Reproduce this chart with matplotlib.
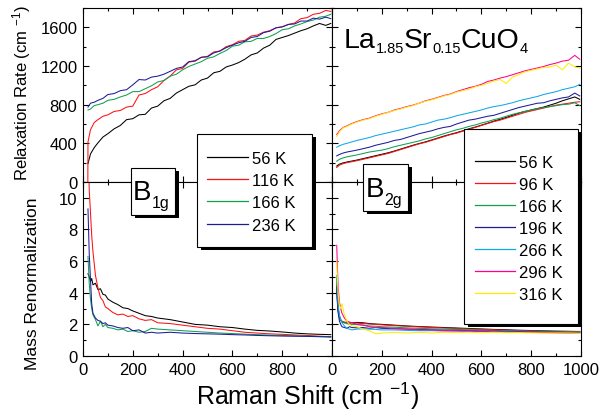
import matplotlib
matplotlib.use('Agg')
import matplotlib.pyplot as plt
from matplotlib.patches import Rectangle
from matplotlib.lines import Line2D
from matplotlib.ticker import MultipleLocator

plt.rcParams['font.family'] = ['Liberation Sans', 'DejaVu Sans']
plt.rcParams['mathtext.fontset'] = 'custom'
plt.rcParams['mathtext.rm'] = 'Liberation Sans'
plt.rcParams['mathtext.default'] = 'regular'

# ---- B1g relaxation rate (cm^-1) ----
b1g_shift = [20, 30, 45, 60, 80, 100, 125, 150, 175, 200, 225, 250, 275, 300, 325, 350,
             375, 400, 425, 450, 475, 500, 525, 550, 575, 600, 625, 650, 675, 700, 725,
             750, 775, 800, 825, 850, 875, 900, 925, 950, 975, 995]
b1g_rate_56 = [190, 290, 355, 405, 465, 500, 550, 585, 645, 655, 695, 700, 765, 785, 840, 865,
               920, 955, 990, 1005, 1055, 1075, 1130, 1145, 1190, 1210, 1235, 1270, 1315, 1335,
               1385, 1415, 1475, 1495, 1515, 1540, 1565, 1585, 1615, 1640, 1620, 1640]
b1g_shift_116 = [19] + b1g_shift
b1g_rate_116 = [-300, 413, 540, 615, 645, 680, 695, 730, 740, 775, 785, 900, 915, 955, 985, 1050,
                1095, 1160, 1175, 1240, 1250, 1290, 1300, 1345, 1355, 1400, 1420, 1455, 1465,
                1510, 1520, 1550, 1565, 1595, 1605, 1630, 1645, 1690, 1700, 1735, 1745, 1775, 1765]
b1g_rate_166 = [745, 755, 790, 800, 815, 845, 855, 880, 900, 935, 935, 965, 995, 1035, 1050, 1095,
                1115, 1160, 1195, 1220, 1245, 1280, 1295, 1330, 1360, 1405, 1415, 1450, 1455,
                1485, 1485, 1505, 1535, 1575, 1585, 1615, 1635, 1660, 1675, 1705, 1715, 1735]
b1g_rate_236 = [775, 815, 825, 845, 865, 905, 915, 945, 955, 1005, 1060, 1055, 1085, 1095, 1115,
                1145, 1175, 1190, 1245, 1255, 1290, 1295, 1335, 1355, 1390, 1415, 1440, 1455,
                1495, 1505, 1545, 1560, 1595, 1605, 1630, 1635, 1665, 1665, 1695, 1685, 1705, 1690]

# ---- B1g mass renormalization ----
b1g_mshift = [20, 25, 30, 35, 40, 50, 60, 70, 80, 90, 100, 120, 140, 160, 180, 200, 225, 250,
              275, 300, 350, 400, 450, 500, 550, 600, 650, 700, 750, 800, 850, 900, 950, 995]
b1g_mass_56 = [5.2, 5.0, 4.7, 4.9, 4.5, 4.6, 4.2, 4.25, 3.9, 3.85, 3.6, 3.4, 3.25, 3.05, 3.0, 2.85,
               2.7, 2.55, 2.5, 2.4, 2.3, 2.15, 2.0, 1.95, 1.85, 1.8, 1.7, 1.62, 1.58, 1.52, 1.45,
               1.4, 1.37, 1.35]
b1g_mass_116 = [14.0, 10.5, 9.1, 7.6, 6.6, 5.1, 4.3, 3.7, 3.5, 3.1, 3.0, 2.75, 2.6, 2.65, 2.5, 2.55,
                2.35, 2.25, 2.3, 2.1, 2.05, 1.95, 1.85, 1.75, 1.7, 1.6, 1.5, 1.45, 1.4, 1.37, 1.33,
                1.3, 1.25, 1.22]
b1g_mass_166 = [6.3, 4.6, 3.6, 3.0, 2.6, 2.3, 1.9, 2.2, 1.85, 2.0, 1.8, 1.75, 1.65, 1.7, 1.55, 1.6,
                1.5, 1.55, 1.75, 1.7, 1.65, 1.6, 1.55, 1.5, 1.45, 1.42, 1.38, 1.35, 1.32, 1.3, 1.28,
                1.25, 1.23, 1.22]
b1g_mass_236 = [9.3, 6.5, 4.85, 3.3, 2.7, 2.4, 2.25, 2.2, 2.05, 2.1, 1.95, 1.9, 1.8, 1.75, 1.8, 1.6,
                1.65, 1.45, 1.5, 1.45, 1.5, 1.45, 1.42, 1.4, 1.38, 1.35, 1.33, 1.3, 1.28, 1.26, 1.25,
                1.24, 1.22, 1.2]

# ---- B2g relaxation rate ----
b2g_shift = [19, 30, 45, 60, 80, 100, 125, 150, 175, 200, 225, 250, 275, 300, 325, 350,
             375, 400, 425, 450, 475, 500, 525, 550, 575, 600, 625, 650, 675, 700, 725,
             750, 775, 800, 825, 850, 875, 900, 925, 950, 975, 995]
b2g_rate_56 = [165, 185, 198, 207, 217, 227, 242, 257, 272, 287, 302, 320, 340, 360, 380, 398,
               415, 435, 455, 475, 493, 510, 530, 550, 568, 588, 608, 630, 648, 668, 690, 712,
               730, 745, 760, 775, 795, 815, 840, 860, 880, 855]
b2g_rate_96 = [150, 175, 190, 200, 210, 220, 235, 250, 265, 280, 295, 315, 335, 355, 375, 395,
               410, 430, 450, 470, 490, 505, 525, 545, 565, 585, 605, 625, 640, 660, 680, 700,
               720, 735, 750, 765, 780, 795, 805, 815, 825, 830]
b2g_rate_166 = [215, 235, 250, 260, 270, 280, 295, 310, 320, 330, 345, 365, 380, 395, 410, 425,
                445, 460, 480, 500, 520, 540, 555, 575, 590, 610, 625, 645, 660, 680, 700, 715,
                730, 745, 760, 770, 780, 790, 800, 805, 820, 790]
b2g_rate_196 = [270, 285, 300, 310, 320, 330, 345, 360, 380, 395, 410, 430, 440, 460, 480, 500,
                515, 530, 550, 565, 575, 600, 620, 640, 650, 665, 680, 690, 710, 730, 750, 770,
                785, 800, 815, 820, 840, 855, 870, 880, 920, 890]
b2g_rate_266 = [360, 375, 390, 400, 415, 430, 445, 460, 480, 495, 510, 525, 540, 555, 570, 590,
                600, 620, 640, 650, 665, 685, 700, 715, 730, 745, 765, 780, 790, 805, 820, 840,
                855, 870, 885, 905, 920, 935, 955, 970, 985, 1010]
b2g_rate_296 = [490, 530, 565, 580, 605, 625, 645, 660, 685, 705, 720, 745, 760, 780, 795, 815,
                840, 855, 875, 895, 910, 935, 955, 975, 990, 1010, 1040, 1055, 1075, 1090, 1110,
                1130, 1150, 1165, 1180, 1195, 1215, 1230, 1250, 1260, 1310, 1270]
b2g_rate_316 = [470, 520, 560, 575, 600, 620, 640, 655, 680, 700, 720, 740, 755, 775, 790, 815,
                835, 850, 870, 890, 905, 930, 945, 960, 985, 1000, 1020, 1045, 1060, 1020, 1085,
                1110, 1140, 1155, 1170, 1185, 1190, 1210, 1160, 1230, 1190, 1180]

# ---- B2g mass renormalization ----
b2g_mshift = [19, 22, 25, 30, 35, 40, 50, 60, 70, 80, 100, 125, 150, 175, 200, 250, 300, 350,
              400, 450, 500, 550, 600, 650, 700, 750, 800, 850, 900, 950, 995]
b2g_mass_56 = [4.3, 3.3, 2.8, 2.4, 2.25, 2.15, 2.1, 2.1, 2.08, 2.1, 2.12, 2.1, 2.05, 2.02, 2.0,
               1.95, 1.9, 1.86, 1.83, 1.8, 1.77, 1.74, 1.71, 1.68, 1.66, 1.63, 1.61, 1.59, 1.57,
               1.56, 1.55]
b2g_mass_96 = [4.6, 3.5, 2.9, 2.5, 2.3, 2.2, 2.15, 2.12, 2.1, 2.1, 2.08, 2.05, 2.02, 2.0, 1.97,
               1.92, 1.88, 1.84, 1.8, 1.77, 1.74, 1.71, 1.68, 1.66, 1.63, 1.61, 1.59, 1.57, 1.56,
               1.55, 1.54]
b2g_mass_166 = [4.9, 3.6, 3.0, 2.5, 2.3, 2.2, 2.1, 2.05, 2.0, 2.0, 1.98, 1.95, 1.9, 1.88, 1.85,
                1.82, 1.78, 1.75, 1.72, 1.7, 1.68, 1.66, 1.64, 1.62, 1.6, 1.58, 1.56, 1.55, 1.53,
                1.52, 1.52]
b2g_mass_196 = [4.4, 3.4, 2.7, 2.2, 2.0, 1.85, 1.8, 1.75, 1.85, 1.8, 1.78, 1.8, 1.75, 1.8, 1.75,
                1.72, 1.7, 1.68, 1.65, 1.63, 1.62, 1.6, 1.58, 1.57, 1.55, 1.55, 1.52, 1.5, 1.5,
                1.48, 1.48]
b2g_mass_266 = [5.1, 4.0, 3.2, 2.6, 2.3, 2.1, 1.9, 1.75, 1.7, 1.65, 1.7, 1.72, 1.7, 1.68, 1.65,
                1.65, 1.62, 1.6, 1.6, 1.58, 1.57, 1.55, 1.55, 1.53, 1.52, 1.5, 1.5, 1.49, 1.48,
                1.47, 1.47]
b2g_mass_296 = [7.0, 5.5, 4.3, 3.4, 3.0, 2.7, 2.4, 2.2, 2.15, 2.1, 2.0, 1.95, 1.85, 1.8, 1.8,
                1.75, 1.7, 1.65, 1.65, 1.6, 1.6, 1.58, 1.55, 1.55, 1.52, 1.5, 1.5, 1.48, 1.46,
                1.45, 1.45]
b2g_mass_316 = [6.0, 4.8, 3.9, 3.2, 3.0, 3.3, 2.6, 2.2, 2.0, 1.9, 1.85, 1.7, 1.6, 1.4, 1.45,
                1.5, 1.45, 1.5, 1.45, 1.5, 1.48, 1.5, 1.47, 1.5, 1.47, 1.48, 1.46, 1.45, 1.45,
                1.45, 1.43]

b1g_labels = ['56 K', '116 K', '166 K', '236 K']
b2g_labels = ['56 K', '96 K', '166 K', '196 K', '266 K', '296 K', '316 K']
x_ticks = [0, 200, 400, 600, 800, 1000]
left_xticklabels = ['0', '200', '400', '600', '800', '']
right_xticklabels = ['0', '200', '400', '600', '800', '1000']

b1g_colors = ['#000000', '#ff1010', '#10a050', '#1c1c9a']
b2g_colors = ['#000000', '#ff1010', '#10a050', '#1c1c9a', '#10a8e8', '#ff0090', '#ffec00']

W, H = 606, 414
fig = plt.figure(figsize=(W / 100, H / 100), dpi=100)


def px_box(x0, y0, x1, y1):
    return [x0 / W, 1 - y1 / H, (x1 - x0) / W, (y1 - y0) / H]


ax_tl = fig.add_axes(px_box(83, 9, 332, 183))
ax_tr = fig.add_axes(px_box(332, 9, 581, 183))
ax_bl = fig.add_axes(px_box(83, 183, 332, 357))
ax_br = fig.add_axes(px_box(332, 183, 581, 357))


def style(ax, ymax, ystep):
    ax.set_xlim(0, 1000)
    ax.set_ylim(0, ymax)
    ax.xaxis.set_minor_locator(MultipleLocator(100))
    ax.yaxis.set_major_locator(MultipleLocator(ystep))
    ax.yaxis.set_minor_locator(MultipleLocator(ystep / 2))
    ax.tick_params(which='both', direction='in', top=True, right=True, width=0.8,
                   labelsize=12, pad=4)
    ax.tick_params(which='major', length=4)
    ax.tick_params(which='minor', length=2)
    for sp in ax.spines.values():
        sp.set_linewidth(0.8)


for ax in (ax_tl, ax_tr):
    style(ax, 1800, 400)
    ax.set_xticks(x_ticks)
    ax.tick_params(labelbottom=False)
for ax in (ax_bl, ax_br):
    style(ax, 11, 2)
ax_bl.set_xticks(x_ticks, left_xticklabels)
ax_br.set_xticks(x_ticks, right_xticklabels)
ax_tr.tick_params(labelleft=False)
ax_br.tick_params(labelleft=False)

lw = 0.75
ax_tl.plot(b1g_shift, b1g_rate_56, color=b1g_colors[0], lw=lw)
ax_tl.plot(b1g_shift_116, b1g_rate_116, color=b1g_colors[1], lw=lw)
ax_tl.plot(b1g_shift, b1g_rate_166, color=b1g_colors[2], lw=lw)
ax_tl.plot(b1g_shift, b1g_rate_236, color=b1g_colors[3], lw=lw)

for ys, c in zip([b1g_mass_56, b1g_mass_116, b1g_mass_166, b1g_mass_236], b1g_colors):
    ax_bl.plot(b1g_mshift, ys, color=c, lw=lw)

b2g_rates = [b2g_rate_56, b2g_rate_96, b2g_rate_166, b2g_rate_196, b2g_rate_266,
             b2g_rate_296, b2g_rate_316]
b2g_masses = [b2g_mass_56, b2g_mass_96, b2g_mass_166, b2g_mass_196, b2g_mass_266,
              b2g_mass_296, b2g_mass_316]
for ys, c in zip(b2g_rates, b2g_colors):
    ax_tr.plot(b2g_shift, ys, color=c, lw=lw)
for ys, c in zip(b2g_masses, b2g_colors):
    ax_br.plot(b2g_mshift, ys, color=c, lw=lw)

# axis titles
fig.text(27 / W, 1 - 181 / H, 'Relaxation Rate (cm $^{-1}$)', rotation=90,
         rotation_mode='anchor', ha='left', va='baseline', fontsize=12)
fig.text(37 / W, 1 - 370 / H, 'Mass Renormalization', rotation=90,
         rotation_mode='anchor', ha='left', va='baseline', fontsize=12.5)
fig.text(196 / W, 1 - 405 / H, 'Raman Shift (cm $^{-1}$)', ha='left', va='baseline',
         fontsize=18)


def fig_rect(x0, y0, x1, y1, **kw):
    return Rectangle((x0 / W, 1 - y1 / H), (x1 - x0) / W, (y1 - y0) / H,
                     transform=fig.transFigure, **kw)


def shadow_box(x0, y0, x1, y1, dx=3.5, dy=3):
    fig.add_artist(fig_rect(x0 + dx, y0 + dy, x1 + dx, y1 + dy, facecolor='black',
                            edgecolor='none', zorder=5))
    fig.add_artist(fig_rect(x0, y0, x1, y1, facecolor='white', edgecolor='black',
                            lw=0.8, zorder=6))


renderer = fig.canvas.get_renderer()


def put_text(x, y, pieces):
    # pieces of (string, size, drop in px) laid out left to right on one baseline
    for s, size, drop in pieces:
        t = fig.text(x / W, 1 - (y + drop) / H, s, fontsize=size, ha='left',
                     va='baseline', zorder=8)
        x += t.get_window_extent(renderer=renderer).width


def draw_key(box, y_first, y_step, line_x, text_x, labels, colors):
    shadow_box(*box)
    for i, (lab, c) in enumerate(zip(labels, colors)):
        y = y_first + i * y_step
        fig.add_artist(Line2D([line_x[0] / W, line_x[1] / W], [1 - y / H, 1 - y / H],
                              transform=fig.transFigure, color=c, lw=0.9, zorder=7))
        fig.text(text_x / W, 1 - (y + 6) / H, lab, fontsize=12, ha='left',
                 va='baseline', zorder=8)


draw_key((197, 135, 312, 248), 158, 22.2, (207, 248), 252, b1g_labels, b1g_colors)
draw_key((464, 130, 578, 325), 161.7, 22.1, (475, 515), 519, b2g_labels, b2g_colors)

shadow_box(131, 169, 175, 216)
put_text(133, 200, [('B', 20, 0), ('1g', 11.5, 8)])
shadow_box(363, 165, 408, 212)
put_text(366, 197, [('B', 20, 0), ('2g', 11.5, 8)])

put_text(344, 48, [('La', 20.5, 0), ('1.85', 10.5, 5), ('Sr', 20.5, 0), ('0.15', 10.5, 5),
                   ('CuO', 20.5, 0), ('4', 10.5, 5)])

fig.savefig('out.png', dpi=100)
